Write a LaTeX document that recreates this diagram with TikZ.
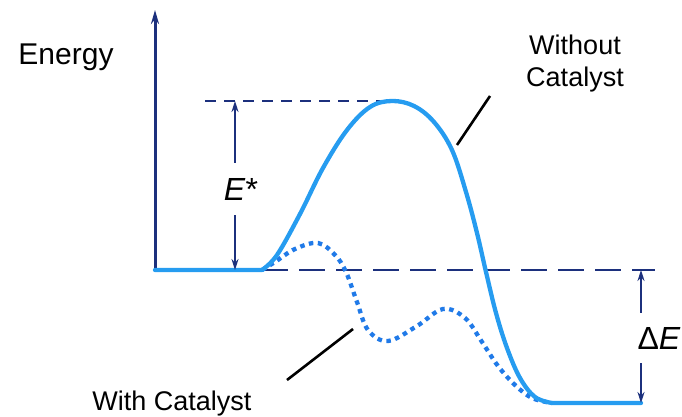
\documentclass[tikz,border=0pt]{standalone}
\usepackage{fontspec}
\setmainfont{Liberation Sans}
\usetikzlibrary{arrows.meta, calc}
\definecolor{navy}{RGB}{28,48,125}
\definecolor{curveblue}{RGB}{38,156,240}
\definecolor{catblue}{RGB}{32,122,232}

\begin{document}
\begin{tikzpicture}[
    x=1pt, y=-1pt,
    axis/.style={draw=navy, line width=3pt, -{Stealth[length=14pt,width=8pt]}},
    level/.style={draw=navy, line width=2.8pt, dash pattern=on 26pt off 11pt},
    guide/.style={draw=navy, line width=1.1pt, dash pattern=on 11pt off 8pt},
    dimarrow/.style={draw=navy, line width=1.8pt, -{Stealth[length=11pt,width=7pt]}},
    uncat/.style={draw=curveblue, line width=4.3pt, line cap=round, line join=round},
    cat/.style={draw=catblue, line width=4.3pt, dash pattern=on 4.5pt off 4.5pt},
    pointer/.style={draw=black, line width=2.6pt},
    lbl/.style={font=\fontsize{27}{32}\selectfont, inner sep=0pt, align=center},
    dimlbl/.style={font=\fontsize{32}{36}\selectfont, inner sep=0pt}
]

% ---- Fixed frame, same proportions as the page ----
\useasboundingbox (0,0) rectangle (682,417);

% ---- Key points of the profile ----
\coordinate (origin) at (155,270);
\coordinate (axistop) at (155,10);
\coordinate (start) at (262,270);
\coordinate (peak) at (392,101);
\coordinate (guideL) at (205,101);
\coordinate (levelR) at (655,270);
\coordinate (prod) at (552,403);
\coordinate (prodR) at (641,403);
\coordinate (Etop) at (235,101);
\coordinate (Ebot) at (235,270);
\coordinate (dEtop) at (641,270);
\coordinate (dEbot) at (641,403);

% ---- Axis ----
\draw[axis] (origin) -- (axistop);

% ---- Reference levels ----
\draw[guide] (guideL) -- (peak);
\draw[level] (start) -- (levelR);

% ---- Path with catalyst (dotted) ----
\draw[cat] plot[smooth, tension=0.6] coordinates {
    (262,270) (275,262) (295,249) (318,243) (335,255) (346,272)
    (357,302) (368,330) (388,341) (417,326) (443,309) (465,318)
    (482,342) (498,366) (515,385) (532,398) (552,403)};

% ---- Path without catalyst (solid) ----
\draw[uncat] (origin) -- (start)
    plot[smooth, tension=0.6] coordinates {
    (262,270) (277,255) (300,214) (323,168) (347,130) (370,107)
    (392,101) (414,106) (434,122) (452,150) (466,192) (477,233)
    (486,272) (496,313) (507,348) (520,378) (535,397) (552,403)}
    -- (prodR);

% ---- Dimension arrows ----
\node[dimlbl, minimum height=52pt] (estar) at (241,189) {\textit{E}*};
\draw[dimarrow] (estar.north -| Etop) -- (Etop);
\draw[dimarrow] (estar.south -| Ebot) -- (Ebot);

\node[dimlbl, minimum height=50pt] (deltae) at (659,338) {Δ\textit{E}};
\draw[dimarrow] (deltae.north -| dEtop) -- (dEtop);
\draw[dimarrow] (deltae.south -| dEbot) -- (dEbot);

% ---- Labels ----
\node[lbl, font=\fontsize{30}{36}\selectfont, anchor=base] (energy) at (66,65) {Energy};
\node[lbl] (without) at (575,64) {Without\\Catalyst};
\node[lbl, anchor=base] (with) at (172,410) {With Catalyst};

% ---- Pointers ----
\coordinate (wo1) at (490,96);
\coordinate (wo2) at (457,145);
\coordinate (wi1) at (353,329);
\coordinate (wi2) at (287,380);
\draw[pointer] (wo1) -- (wo2);
\draw[pointer] (wi1) -- (wi2);

\end{tikzpicture}
\end{document}
